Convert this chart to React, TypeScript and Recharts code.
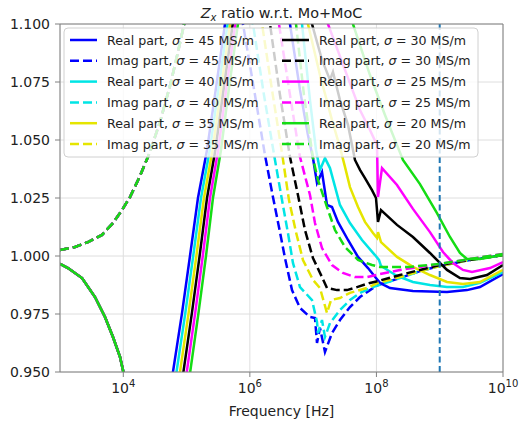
import React from "react";
import { LineChart, Line, XAxis, YAxis, CartesianGrid, ReferenceLine } from "recharts";

// points are [log10(frequency / Hz), ratio]
const realLow = [
  [3.0, 0.9966], [3.126, 0.9948], [3.348, 0.9905], [3.553, 0.9823], [3.711, 0.9737],
  [3.837, 0.9651], [3.948, 0.9565], [3.995, 0.9509], [4.05, 0.94], [4.4, 0.9],
];
const realTopGap = [[6.2, 1.3]];

const realRise45 = [[4.72, 0.935], [4.785, 0.95], [4.928, 0.9754], [5.054, 1.0], [5.18, 1.025], [5.323, 1.0457], [5.465, 1.0724], [5.607, 1.1], [5.7, 1.14]];
const realRise40 = [[4.78, 0.935], [4.841, 0.95], [4.98, 0.9754], [5.105, 1.0], [5.228, 1.025], [5.367, 1.0457], [5.506, 1.0724], [5.648, 1.1], [5.74, 1.14]];
const realRise35 = [[4.835, 0.935], [4.896, 0.95], [5.032, 0.9754], [5.155, 1.0], [5.275, 1.025], [5.411, 1.0457], [5.547, 1.0724], [5.689, 1.1], [5.78, 1.14]];
const realRise30 = [[4.89, 0.935], [4.95, 0.95], [5.084, 0.9754], [5.206, 1.0], [5.323, 1.025], [5.455, 1.0457], [5.588, 1.0724], [5.73, 1.1], [5.82, 1.14]];
const realRise25 = [[4.94, 0.935], [5.003, 0.95], [5.136, 0.9754], [5.256, 1.0], [5.37, 1.025], [5.5, 1.0457], [5.629, 1.0724], [5.771, 1.1], [5.86, 1.14]];
const realRise20 = [[4.995, 0.935], [5.057, 0.95], [5.188, 0.9754], [5.307, 1.0], [5.417, 1.025], [5.544, 1.0457], [5.67, 1.0724], [5.812, 1.1], [5.9, 1.14]];

const realHigh45 = [
  [6.55, 1.14], [6.634, 1.1], [6.792, 1.0716], [6.918, 1.0522], [6.997, 1.0422], [7.061, 1.0315],
  [7.14, 1.0362], [7.219, 1.022], [7.298, 1.0211], [7.392, 1.0147], [7.551, 1.0069], [7.709, 0.9996],
  [7.867, 0.9948], [7.993, 0.9905], [8.056, 0.9884], [8.214, 0.9862], [8.577, 0.9849], [9.115, 0.9845],
  [9.431, 0.9853], [9.636, 0.9866], [10.0, 0.9922],
];
const realHigh40 = [
  [6.74, 1.14], [6.824, 1.1], [6.95, 1.0672], [7.045, 1.0457], [7.108, 1.0371], [7.187, 1.0422],
  [7.266, 1.0379], [7.424, 1.022], [7.582, 1.0142], [7.772, 1.0069], [7.977, 1.0004], [8.04, 0.9983],
  [8.072, 0.9957], [8.325, 0.9914], [8.577, 0.9888], [8.846, 0.9875], [9.115, 0.9866], [9.367, 0.9866],
  [9.636, 0.9884], [10.0, 0.9931],
];
const realHigh35 = [
  [6.83, 1.14], [6.918, 1.1], [7.108, 1.078], [7.298, 1.0586], [7.424, 1.0468], [7.503, 1.0384],
  [7.582, 1.0297], [7.709, 1.0211], [7.819, 1.0147], [7.946, 1.0099], [8.009, 1.0078], [8.025, 1.0103],
  [8.072, 1.006], [8.325, 0.9996], [8.577, 0.9953], [8.846, 0.9918], [9.115, 0.9888], [9.367, 0.9879],
  [9.636, 0.9888], [10.0, 0.994],
];
const realHigh30 = [
  [6.9, 1.14], [6.982, 1.1], [7.14, 1.0845], [7.266, 1.0759], [7.313, 1.0793], [7.424, 1.0672],
  [7.551, 1.0565], [7.661, 1.0414], [7.74, 1.0371], [7.819, 1.0336], [7.93, 1.0284], [7.993, 1.025],
  [8.025, 1.0147], [8.072, 1.0198], [8.325, 1.0134], [8.577, 1.0082], [8.846, 1.0013], [9.115, 0.994],
  [9.32, 0.9905], [9.478, 0.9901], [9.747, 0.9918], [10.0, 0.9961],
];
const realHigh25 = [
  [7.15, 1.14], [7.234, 1.1], [7.503, 1.0802], [7.74, 1.0629], [7.898, 1.0543], [8.009, 1.0478],
  [8.025, 1.0254], [8.088, 1.0379], [8.325, 1.0306], [8.577, 1.0203], [8.846, 1.0103], [9.052, 1.0017],
  [9.209, 0.997], [9.367, 0.994], [9.51, 0.9931], [9.794, 0.9948], [10.0, 0.9974],
];
const realHigh20 = [
  [7.54, 1.14], [7.629, 1.1], [7.898, 1.078], [8.135, 1.0608], [8.419, 1.0414], [8.688, 1.031],
  [8.957, 1.0185], [9.162, 1.0082], [9.32, 1.0013], [9.431, 0.9987], [9.636, 0.9987], [10.0, 1.0004],
];

const imagLow = [
  [3.0, 1.0026], [3.237, 1.0039], [3.442, 1.006], [3.664, 1.0091], [3.837, 1.0142], [3.98, 1.0198],
  [4.106, 1.0254], [4.264, 1.0345], [4.422, 1.0448], [4.58, 1.0578], [4.738, 1.0733], [4.864, 1.0879],
  [4.975, 1.1017], [5.05, 1.13], [5.4, 1.3],
];

const imagHigh45 = [
  [5.8, 1.14], [5.891, 1.1], [6.081, 1.0694], [6.239, 1.0435], [6.365, 1.0254], [6.476, 1.0103],
  [6.555, 0.9991], [6.666, 0.9853], [6.792, 0.9776], [6.95, 0.9737], [7.029, 0.9733], [7.061, 0.9625],
  [7.108, 0.969], [7.187, 0.9586], [7.298, 0.9668], [7.424, 0.9724], [7.582, 0.978], [7.74, 0.9823],
  [7.898, 0.9853], [8.025, 0.9875], [8.372, 0.9905], [8.688, 0.9935], [9.004, 0.9957], [9.478, 0.9983],
  [10.0, 1.0004],
];
const imagHigh40 = [
  [5.96, 1.14], [6.049, 1.1], [6.223, 1.0694], [6.397, 1.0414], [6.508, 1.0241], [6.602, 1.0099],
  [6.681, 0.997], [6.792, 0.9866], [6.982, 0.981], [7.061, 0.9716], [7.076, 0.9668], [7.14, 0.9724],
  [7.187, 0.9651], [7.266, 0.9711], [7.424, 0.9767], [7.582, 0.981], [7.74, 0.9841], [7.946, 0.9866],
  [8.372, 0.9905], [8.688, 0.9935], [9.004, 0.9957], [9.478, 0.9983], [10.0, 1.0004],
];
const imagHigh35 = [
  [6.1, 1.14], [6.192, 1.1], [6.35, 1.0716], [6.508, 1.0444], [6.618, 1.0241], [6.729, 1.0103],
  [6.839, 0.9983], [6.997, 0.9897], [7.108, 0.9862], [7.219, 0.9754], [7.282, 0.981], [7.424, 0.9819],
  [7.582, 0.9841], [7.851, 0.9862], [8.025, 0.9884], [8.372, 0.9909], [8.688, 0.9935], [9.004, 0.9957],
  [9.478, 0.9983], [10.0, 1.0004],
];
const imagHigh30 = [
  [6.23, 1.14], [6.318, 1.1], [6.476, 1.0694], [6.634, 1.0427], [6.76, 1.0263], [6.871, 1.0112],
  [6.997, 0.9991], [7.14, 0.9909], [7.219, 0.9862], [7.377, 0.9853], [7.535, 0.9853], [7.693, 0.9866],
  [7.898, 0.9884], [8.025, 0.9892], [8.372, 0.9918], [8.688, 0.994], [9.004, 0.9961], [9.478, 0.9983],
  [10.0, 1.0004],
];
const imagHigh25 = [
  [6.37, 1.14], [6.46, 1.1], [6.634, 1.0694], [6.792, 1.0427], [6.95, 1.0263], [7.029, 1.0142],
  [7.14, 1.0034], [7.298, 0.9961], [7.471, 0.9927], [7.661, 0.9909], [7.851, 0.9909], [8.056, 0.9922],
  [8.372, 0.994], [8.688, 0.9953], [9.004, 0.9966], [9.478, 0.9987], [10.0, 1.0009],
];
const imagHigh20 = [
  [6.64, 1.14], [6.729, 1.1], [6.855, 1.0694], [6.997, 1.0422], [7.076, 1.0328], [7.219, 1.0211],
  [7.345, 1.0112], [7.503, 1.0039], [7.709, 0.9983], [7.93, 0.9961], [8.056, 0.9953], [8.53, 0.9953],
  [9.004, 0.9966], [9.478, 0.9987], [10.0, 1.0009],
];

const sigmas = [45, 40, 35, 30, 25, 20];
const colors = ["#0000ff", "#00e5e5", "#e5e500", "#000000", "#ff00ff", "#14dc14"];
const realHighs = [realHigh45, realHigh40, realHigh35, realHigh30, realHigh25, realHigh20];
const realRises = [realRise45, realRise40, realRise35, realRise30, realRise25, realRise20];
const imagHighs = [imagHigh45, imagHigh40, imagHigh35, imagHigh30, imagHigh25, imagHigh20];

const xTicks = [1e4, 1e6, 1e8, 1e10];
const yTicks = [0.95, 0.975, 1.0, 1.025, 1.05, 1.075, 1.1];

const toRows = (pts: number[][]) => pts.map(([e, v]) => ({ f: Math.pow(10, e), v }));

const series = sigmas.flatMap((s, i) => [
  { key: `re${s}`, label: "Real part", sigma: s, color: colors[i], dashed: false, data: toRows([...realLow, ...realRises[i], ...realTopGap, ...realHighs[i]]) },
  { key: `im${s}`, label: "Imag part", sigma: s, color: colors[i], dashed: true, data: toRows([...imagLow, ...imagHighs[i]]) },
]);

const FONT = "'DejaVu Sans', sans-serif";
const LW = 2.5;
const DASH = "9 4";

const XTick = (props: any) => {
  const { x, y, payload } = props;
  const e = Math.round(Math.log10(payload.value));
  return (
    <text x={x} y={y + 14} textAnchor="middle" fill="#222" fontSize={14}>
      <tspan>10</tspan>
      <tspan dy={-6} fontSize={10}>{e}</tspan>
    </text>
  );
};

const Overlay = () => (
  <svg width={527} height={421} style={{ position: "absolute", left: 0, top: 0, pointerEvents: "none" }}>
    <text x={281.5} y={18} textAnchor="middle" fontSize={14.4} fill="#222">
      <tspan fontStyle="italic">Z</tspan>
      <tspan fontStyle="italic" fontSize={10} dy={3}>x</tspan>
      <tspan dy={-3}> ratio w.r.t. Mo+MoC</tspan>
    </text>
    <text x={281.5} y={416} textAnchor="middle" fontSize={14} fill="#222">Frequency [Hz]</text>
    <rect x={64} y={28} width={414} height={129} rx={4} fill="#ffffff" fillOpacity={0.8} stroke="#d0d0d0" />
    {series.map((s, i) => {
      const col = i < 6 ? 0 : 1;
      const row = i % 6;
      const cy = 40 + row * 20.8;
      const hx = col === 0 ? 70 : 282;
      return (
        <g key={s.key}>
          <line x1={hx} x2={hx + 27} y1={cy} y2={cy} stroke={s.color} strokeWidth={LW} strokeDasharray={s.dashed ? DASH : undefined} />
          <text x={hx + 37} y={cy + 4.5} fontSize={12.6} fill="#222">
            {s.label}, <tspan fontStyle="italic">σ</tspan> = {s.sigma} MS/m
          </text>
        </g>
      );
    })}
  </svg>
);

export default function App() {
  return (
    <div style={{ position: "absolute", left: 0, top: 0, width: 527, height: 421, fontFamily: FONT, background: "#fff" }}>
      <LineChart width={527} height={421} margin={{ top: 24, right: 24, bottom: 0, left: 0 }}>
        <CartesianGrid stroke="#dedede" strokeWidth={1} />
        <XAxis
          dataKey="f"
          type="number"
          scale="log"
          domain={[1e3, 1e10]}
          allowDataOverflow
          ticks={xTicks}
          interval={0}
          tick={<XTick />}
          tickSize={5}
          height={49}
          stroke="#808080"
        />
        <YAxis
          type="number"
          domain={[0.95, 1.1]}
          allowDataOverflow
          ticks={yTicks}
          interval={0}
          tickFormatter={(v: number) => v.toFixed(3)}
          tick={{ fill: "#222", fontSize: 14 }}
          tickSize={5}
          tickMargin={5}
          width={60}
          stroke="#808080"
        />
        {series.map((s) => (
          <Line
            key={s.key}
            data={s.data}
            dataKey="v"
            type="linear"
            stroke={s.color}
            strokeWidth={LW}
            strokeDasharray={s.dashed ? DASH : undefined}
            dot={false}
            activeDot={false}
            isAnimationActive={false}
          />
        ))}
        <ReferenceLine x={1e9} stroke="#1f77b4" strokeWidth={2} strokeDasharray="6 3.5" />
        <ReferenceLine y={1.1} stroke="#808080" />
        <ReferenceLine x={1e10} stroke="#808080" />
      </LineChart>
      <Overlay />
    </div>
  );
}
